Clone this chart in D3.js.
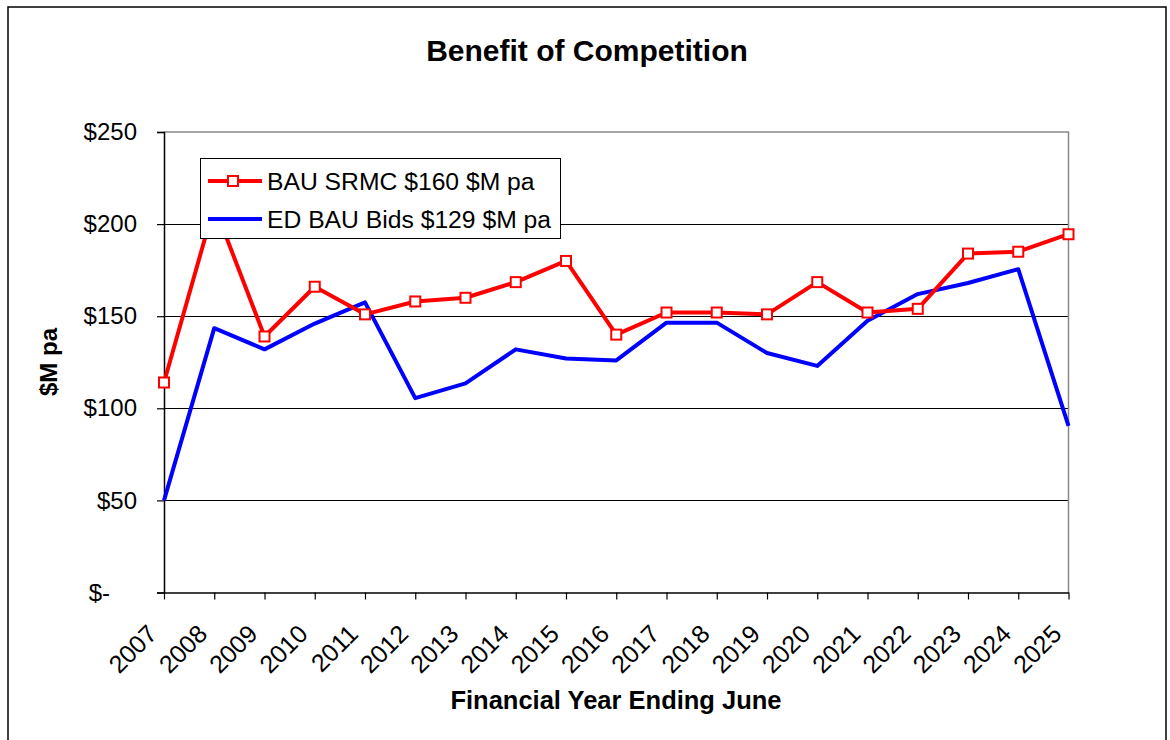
<!DOCTYPE html>
<html>
<head>
<meta charset="utf-8">
<script src="https://cdn.jsdelivr.net/npm/d3@7"></script>
<style>
  body { margin: 0; background: #fff; }
  text { font-family: "Liberation Sans", Arial, sans-serif; }
</style>
</head>
<body>
<div id="chart-area"></div>
<script>
// data
var years = ["2007", "2008", "2009", "2010", "2011", "2012", "2013", "2014", "2015", "2016",
             "2017", "2018", "2019", "2020", "2021", "2022", "2023", "2024", "2025"];
var srmc = [114, 210, 139, 166, 151, 158, 160, 168.5, 180, 140,
            152, 152, 151, 168.5, 152, 154, 184, 185, 194.5];
var bids = [50, 143.5, 132, 146, 157.5, 105.5, 113.5, 132, 127, 126,
            146.5, 146.5, 130, 123, 147.5, 162, 168, 175.5, 90.5];
var yTicks = [0, 50, 100, 150, 200, 250];
var seriesNames = ["BAU SRMC $160 $M pa", "ED BAU Bids $129 $M pa"];

var W = 1170, H = 740;
var margin = { top: 132, bottom: 147.5, left: 164, right: 101.5 };
var width = W - margin.left - margin.right;
var height = H - margin.top - margin.bottom;

var svg = d3.select("#chart-area").append("svg")
    .attr("width", W)
    .attr("height", H);

// outer chart border
svg.append("rect")
    .attr("x", 8).attr("y", 7)
    .attr("width", 1158).attr("height", 760)
    .attr("fill", "none")
    .attr("stroke", "#000")
    .attr("stroke-width", 1.5);

// title
svg.append("text")
    .attr("x", 587).attr("y", 61)
    .attr("text-anchor", "middle")
    .attr("font-size", "30px")
    .attr("font-weight", "bold")
    .text("Benefit of Competition");

var g = svg.append("g")
    .attr("transform", "translate(" + margin.left + " " + margin.top + ")");

// scales
var x = d3.scalePoint()
    .domain(years)
    .range([0, width]);

var y = d3.scaleLinear()
    .domain([0, 250])
    .range([height, 0]);

// gridlines
g.selectAll(".grid")
    .data(yTicks.filter(function(d) { return d > 0 && d < 250; }))
    .enter().append("line")
        .attr("class", "grid")
        .attr("x1", 0).attr("x2", width)
        .attr("y1", function(d) { return Math.round(y(d)) + 0.5; })
        .attr("y2", function(d) { return Math.round(y(d)) + 0.5; })
        .attr("stroke", "#000")
        .attr("stroke-width", 1);

// plot area border (top / right in grey)
g.append("path")
    .attr("d", "M0," + y(250) + "H" + width + "V" + height)
    .attr("fill", "none")
    .attr("stroke", "#888")
    .attr("stroke-width", 1.5);

// y axis
var yAxis = g.append("g")
    .call(d3.axisLeft(y)
        .tickValues(yTicks)
        .tickSize(7)
        .tickPadding(20)
        .tickFormat(function(d) { return d === 0 ? "$-" : "$" + d; }));
yAxis.select(".domain").attr("stroke", "#000").attr("stroke-width", 1.5);
yAxis.selectAll(".tick line").attr("stroke", "#000").attr("stroke-width", 1.2);
yAxis.selectAll(".tick text")
    .attr("font-size", "24px")
    .attr("fill", "#000")
    .attr("font-family", "Liberation Sans, Arial, sans-serif")
    .attr("x", function(d) { return d === 0 ? -54 : -27; });

// x axis
var xAxis = g.append("g")
    .attr("transform", "translate(0 " + height + ")")
    .call(d3.axisBottom(x).tickSize(7).tickSizeOuter(0));
xAxis.select(".domain").attr("stroke", "#000").attr("stroke-width", 1.5);
xAxis.selectAll(".tick line").attr("stroke", "#000").attr("stroke-width", 1.2);
xAxis.selectAll(".tick text")
    .attr("font-size", "25px")
    .attr("fill", "#000")
    .attr("font-family", "Liberation Sans, Arial, sans-serif")
    .attr("text-anchor", "end")
    .attr("x", null).attr("y", null).attr("dy", null)
    .attr("transform", "translate(-6 43) rotate(-45)");

// axis titles
svg.append("text")
    .attr("transform", "translate(57 362) rotate(-90)")
    .attr("text-anchor", "middle")
    .attr("font-size", "24px")
    .attr("font-weight", "bold")
    .text("$M pa");

svg.append("text")
    .attr("x", 616).attr("y", 709)
    .attr("text-anchor", "middle")
    .attr("font-size", "25.5px")
    .attr("font-weight", "bold")
    .text("Financial Year Ending June");

// lines
var line = d3.line()
    .x(function(d, i) { return x(years[i]); })
    .y(function(d) { return y(d); });

g.append("path")
    .datum(bids)
    .attr("d", line)
    .attr("fill", "none")
    .attr("stroke", "#0000ff")
    .attr("stroke-width", 4)
    .attr("stroke-linejoin", "round");

g.append("path")
    .datum(srmc)
    .attr("d", line)
    .attr("fill", "none")
    .attr("stroke", "#ff0000")
    .attr("stroke-width", 4)
    .attr("stroke-linejoin", "round");

var ms = 10;
g.selectAll(".marker")
    .data(srmc)
    .enter().append("rect")
        .attr("class", "marker")
        .attr("x", function(d, i) { return x(years[i]) - ms / 2; })
        .attr("y", function(d) { return y(d) - ms / 2; })
        .attr("width", ms).attr("height", ms)
        .attr("fill", "#fff")
        .attr("stroke", "#ff0000")
        .attr("stroke-width", 2);

// legend
var legend = svg.append("g")
    .attr("transform", "translate(200 158)");
legend.append("rect")
    .attr("x", 0.5).attr("y", 0.5)
    .attr("width", 360).attr("height", 80)
    .attr("fill", "#fff")
    .attr("stroke", "#000")
    .attr("stroke-width", 1);

var legColors = ["#ff0000", "#0000ff"];
seriesNames.forEach(function(name, i) {
    var ly = 23 + i * 38;
    legend.append("line")
        .attr("x1", 8).attr("x2", 62)
        .attr("y1", ly).attr("y2", ly)
        .attr("stroke", legColors[i])
        .attr("stroke-width", 4);
    if (i === 0) {
        legend.append("rect")
            .attr("x", 33 - ms / 2).attr("y", ly - ms / 2)
            .attr("width", ms).attr("height", ms)
            .attr("fill", "#fff")
            .attr("stroke", "#ff0000")
            .attr("stroke-width", 2);
    }
    legend.append("text")
        .attr("x", 67).attr("y", ly)
        .attr("dy", "0.35em")
        .attr("font-size", "24.7px")
        .text(name);
});
</script>
</body>
</html>
